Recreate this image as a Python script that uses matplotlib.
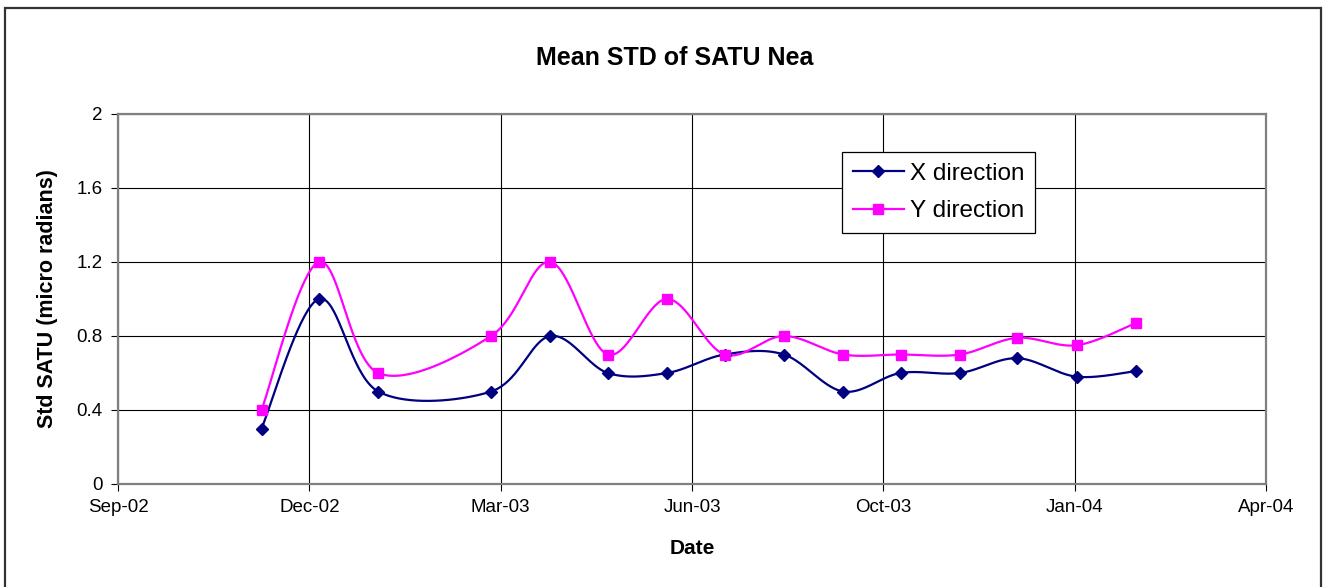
import numpy as np
import matplotlib
matplotlib.use('Agg')
import matplotlib.pyplot as plt
import matplotlib.dates as mdates
from matplotlib.lines import Line2D
from matplotlib.patches import Rectangle
import pandas as pd

# ---------------- data ----------------
dates = ['2002-11-15', '2002-12-15', '2003-01-15', '2003-03-15', '2003-04-15',
         '2003-05-15', '2003-06-15', '2003-07-15', '2003-08-15', '2003-09-15',
         '2003-10-15', '2003-11-15', '2003-12-15', '2004-01-15', '2004-02-15']
x_direction = [0.30, 1.00, 0.50, 0.50, 0.80, 0.60, 0.60, 0.70, 0.70, 0.50,
               0.60, 0.60, 0.68, 0.58, 0.61]
y_direction = [0.40, 1.20, 0.60, 0.80, 1.20, 0.70, 1.00, 0.70, 0.80, 0.70,
               0.70, 0.70, 0.79, 0.75, 0.87]
tick_dates = ['2002-09-01', '2002-12-10', '2003-03-20', '2003-06-28',
              '2003-10-06', '2004-01-14', '2004-04-23']
tick_labels = ['Sep-02', 'Dec-02', 'Mar-03', 'Jun-03', 'Oct-03', 'Jan-04', 'Apr-04']
y_ticks = [0, 0.4, 0.8, 1.2, 1.6, 2]
y_tick_labels = ['0', '0.4', '0.8', '1.2', '1.6', '2']
series_names = ['X direction', 'Y direction']

plt.rcParams['font.family'] = ['Liberation Sans', 'DejaVu Sans']

xd = mdates.date2num(pd.to_datetime(dates))
xt = mdates.date2num(pd.to_datetime(tick_dates))


def smooth(xs, ys, n=40):
    P = np.column_stack([xs, ys]).astype(float)
    out = []
    m = len(P)
    t = np.linspace(0, 1, n)[:, None]
    for i in range(m - 1):
        p0 = P[i - 1] if i > 0 else P[i]
        p1 = P[i]
        p2 = P[i + 1]
        p3 = P[i + 2] if i + 2 < m else P[i + 1]
        c1 = p1 + (p2 - p0) / 6.0
        c2 = p2 - (p3 - p1) / 6.0
        seg = ((1 - t) ** 3) * p1 + 3 * ((1 - t) ** 2) * t * c1 + 3 * (1 - t) * t ** 2 * c2 + t ** 3 * p2
        out.append(seg if i == 0 else seg[1:])
    s = np.vstack(out)
    return s[:, 0], s[:, 1]


W, H = 1324, 587
fig = plt.figure(figsize=(W / 100, H / 100), dpi=100)
fig.patch.set_facecolor('white')

# outer chart border
fig.patches.append(Rectangle((5 / W, -0.01), (1321 - 5) / W, (H - 8) / H + 0.01,
                             transform=fig.transFigure, fill=False,
                             edgecolor='#333333', linewidth=1.6))

left, right, top, bottom = 118, 1266, 114, 484
ax = fig.add_axes([left / W, 1 - bottom / H, (right - left) / W, (bottom - top) / H])

navy = '#000080'
magenta = '#FF00FF'

sx, sy = smooth(xd, x_direction)
ax.plot(sx, sy, color=navy, lw=1.6, zorder=3)
ax.plot(xd, x_direction, linestyle='none', marker='D', color=navy, markersize=6.5, zorder=4)
sx, sy = smooth(xd, y_direction)
ax.plot(sx, sy, color=magenta, lw=1.6, zorder=3)
ax.plot(xd, y_direction, linestyle='none', marker='s', color=magenta, markersize=7.5, zorder=4)

ax.set_xlim(xt[0], xt[-1])
ax.set_ylim(0, 2)
ax.set_xticks(xt)
ax.set_xticklabels(tick_labels)
ax.set_yticks(y_ticks)
ax.set_yticklabels(y_tick_labels)
ax.grid(True, color='black', linewidth=0.8)
ax.set_axisbelow(True)
for sp in ax.spines.values():
    sp.set_color('#808080')
    sp.set_linewidth(1.6)
ax.tick_params(direction='out', length=5, width=0.8, color='black',
               labelsize=13.5, pad=6)

fig.text(675 / W, 1 - 58 / H, 'Mean STD of SATU Nea', fontsize=18, fontweight='bold',
         ha='center', va='center')
ax.set_xlabel('Date', fontsize=15, fontweight='bold', labelpad=16)
ax.set_ylabel('Std SATU (micro radians)', fontsize=15.5, fontweight='bold', labelpad=13)

handles = [Line2D([], [], color=navy, lw=1.6, marker='D', markersize=6.5),
           Line2D([], [], color=magenta, lw=1.6, marker='s', markersize=7.5)]
leg = ax.legend(handles, series_names, loc='upper left',
                bbox_to_anchor=(842 / W, 1 - 152 / H), bbox_transform=fig.transFigure,
                fontsize=17.5, frameon=True, fancybox=False, framealpha=1,
                edgecolor='black', handlelength=2.1, handletextpad=0.25,
                borderpad=0.45, labelspacing=0.62, borderaxespad=0)
leg.get_frame().set_linewidth(0.9)

fig.savefig('out.png', dpi=100)
